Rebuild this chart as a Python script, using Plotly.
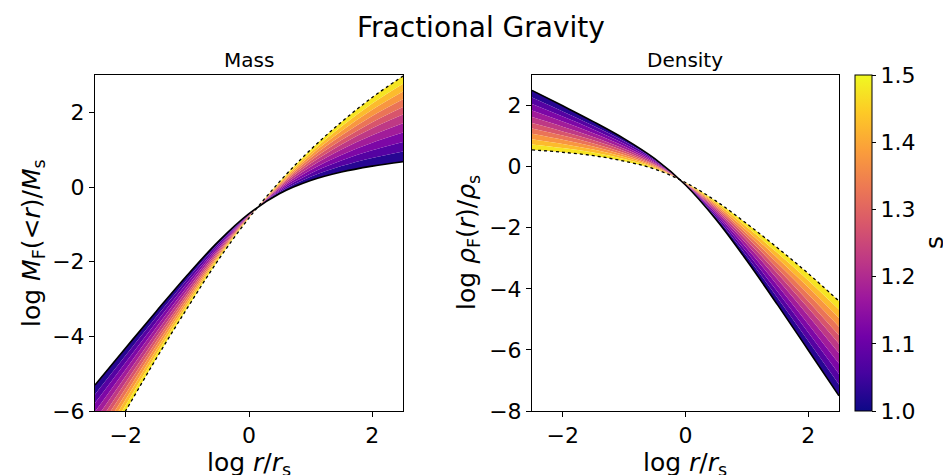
import plotly.graph_objects as go
from plotly.colors import sample_colorscale

# ---- data ----
s_values = [1.0, 1.05, 1.1, 1.15, 1.2, 1.25, 1.3, 1.35, 1.4, 1.45, 1.5]

mass_x = [-2.5, -2, -1.5, -1, -0.5, 0, 0.5, 1, 1.5, 2, 2.5]
mass_s100 = [-5.303, -4.307, -3.319, -2.357, -1.462, -0.714, -0.176, 0.173, 0.401, 0.559, 0.678]
mass_s105 = [-5.556, -4.509, -3.470, -2.463, -1.522, -0.728, -0.137, 0.272, 0.562, 0.780, 0.953]
mass_s110 = [-5.788, -4.694, -3.609, -2.560, -1.577, -0.741, -0.101, 0.363, 0.709, 0.982, 1.205]
mass_s115 = [-6.019, -4.879, -3.748, -2.657, -1.631, -0.753, -0.065, 0.454, 0.856, 1.185, 1.457]
mass_s120 = [-6.251, -5.064, -3.886, -2.754, -1.686, -0.766, -0.029, 0.545, 1.004, 1.387, 1.709]
mass_s125 = [-6.462, -5.233, -4.013, -2.843, -1.736, -0.778, 0.003, 0.628, 1.137, 1.572, 1.939]
mass_s130 = [-6.651, -5.384, -4.126, -2.922, -1.781, -0.788, 0.033, 0.702, 1.258, 1.737, 2.145]
mass_s135 = [-6.841, -5.536, -4.240, -3.002, -1.826, -0.799, 0.062, 0.777, 1.378, 1.903, 2.351]
mass_s140 = [-7.031, -5.687, -4.353, -3.081, -1.870, -0.809, 0.091, 0.851, 1.499, 2.069, 2.557]
mass_s145 = [-7.220, -5.839, -4.467, -3.161, -1.915, -0.820, 0.121, 0.926, 1.619, 2.234, 2.764]
mass_s150 = [-7.41, -5.99, -4.58, -3.24, -1.96, -0.83, 0.15, 1.00, 1.74, 2.40, 2.97]

dens_x = [-2.5, -2, -1.5, -1, -0.5, 0, 0.5, 1, 1.5, 2, 2.5]
dens_s100 = [2.497, 1.991, 1.473, 0.917, 0.261, -0.602, -1.739, -3.083, -4.527, -6.009, -7.503]
dens_s105 = [2.263, 1.808, 1.339, 0.829, 0.220, -0.592, -1.666, -2.937, -4.303, -5.708, -7.131]
dens_s110 = [2.049, 1.641, 1.217, 0.747, 0.183, -0.583, -1.599, -2.804, -4.098, -5.432, -6.789]
dens_s115 = [1.835, 1.474, 1.095, 0.666, 0.145, -0.574, -1.532, -2.671, -3.892, -5.156, -6.448]
dens_s120 = [1.621, 1.307, 0.972, 0.585, 0.108, -0.565, -1.465, -2.537, -3.687, -4.880, -6.107]
dens_s125 = [1.426, 1.154, 0.861, 0.512, 0.073, -0.557, -1.404, -2.416, -3.500, -4.629, -5.796]
dens_s130 = [1.251, 1.018, 0.761, 0.445, 0.043, -0.550, -1.349, -2.307, -3.332, -4.403, -5.517]
dens_s135 = [1.076, 0.881, 0.661, 0.379, 0.012, -0.542, -1.294, -2.198, -3.164, -4.177, -5.238]
dens_s140 = [0.900, 0.744, 0.560, 0.313, -0.019, -0.535, -1.240, -2.088, -2.996, -3.952, -4.959]
dens_s145 = [0.725, 0.607, 0.460, 0.246, -0.049, -0.527, -1.185, -1.979, -2.828, -3.726, -4.679]
dens_s150 = [0.55, 0.47, 0.36, 0.18, -0.08, -0.52, -1.13, -1.87, -2.66, -3.50, -4.40]

cbar_ticks = [1.0, 1.1, 1.2, 1.3, 1.4, 1.5]
cbar_ticktext = ["1.0", "1.1", "1.2", "1.3", "1.4", "1.5"]

mass_curves = [mass_s100, mass_s105, mass_s110, mass_s115, mass_s120, mass_s125,
               mass_s130, mass_s135, mass_s140, mass_s145, mass_s150]
dens_curves = [dens_s100, dens_s105, dens_s110, dens_s115, dens_s120, dens_s125,
               dens_s130, dens_s135, dens_s140, dens_s145, dens_s150]

S_MIN, S_MAX = 1.0, 1.5
FONT = "DejaVu Sans"
W, H = 943, 475
TICK_SIZE = 22
LABEL_SIZE = 25


def pcol(s):
    return sample_colorscale("Plasma", [(s - S_MIN) / (S_MAX - S_MIN)])[0]


fig = go.Figure()


def add_panel(xs, curves, xa, ya):
    fig.add_trace(go.Scatter(x=xs, y=curves[0], mode="lines", line=dict(width=0, shape="spline"),
                             xaxis=xa, yaxis=ya, showlegend=False, hoverinfo="skip"))
    for i in range(1, len(curves)):
        smid = 0.5 * (s_values[i - 1] + s_values[i])
        c = pcol(smid)
        fig.add_trace(go.Scatter(x=xs, y=curves[i], mode="lines",
                                 line=dict(width=0, shape="spline"),
                                 fill="tonexty", fillcolor=c,
                                 xaxis=xa, yaxis=ya, showlegend=False, hoverinfo="skip"))
    fig.add_trace(go.Scatter(x=xs, y=curves[0], mode="lines",
                             line=dict(color="black", width=1.6, shape="spline"),
                             xaxis=xa, yaxis=ya, showlegend=False))
    fig.add_trace(go.Scatter(x=xs, y=curves[-1], mode="lines",
                             line=dict(color="black", width=1.3, dash="dot", shape="spline"),
                             xaxis=xa, yaxis=ya, showlegend=False))


add_panel(mass_x, mass_curves, "x", "y")
add_panel(dens_x, dens_curves, "x2", "y2")

fig.add_trace(go.Scatter(
    x=[None], y=[None], mode="markers", xaxis="x2", yaxis="y2", showlegend=False,
    marker=dict(color=[S_MIN], colorscale="Plasma", cmin=S_MIN, cmax=S_MAX, showscale=True,
                colorbar=dict(
                    x=855 / W, xanchor="left", y=1 - 75 / H, yanchor="top",
                    len=336 / H, lenmode="fraction", thickness=17,
                    xpad=0, ypad=0, outlinecolor="black", outlinewidth=1,
                    tickvals=cbar_ticks, ticktext=cbar_ticktext,
                    ticks="outside", ticklen=4, tickcolor="black",
                    tickfont=dict(family=FONT, size=TICK_SIZE, color="black"),
                ))))

ydom = [1 - 411 / H, 1 - 75 / H]
axis_common = dict(showline=True, linecolor="black", linewidth=1, mirror=True,
                   ticks="outside", ticklen=5, tickcolor="black", showgrid=False, zeroline=False,
                   automargin=False,
                   tickfont=dict(family=FONT, size=TICK_SIZE, color="black"))

fig.update_layout(
    width=W, height=H,
    margin=dict(l=0, r=0, t=0, b=0, autoexpand=False),
    paper_bgcolor="white", plot_bgcolor="white",
    font=dict(family=FONT, color="black"),
    xaxis=dict(domain=[95 / W, 403 / W], range=[-2.5, 2.5], tickvals=[-2, 0, 2], anchor="y", **axis_common),
    yaxis=dict(domain=ydom, range=[-6, 3], tickvals=[-6, -4, -2, 0, 2], anchor="x", **axis_common),
    xaxis2=dict(domain=[532 / W, 839 / W], range=[-2.5, 2.5], tickvals=[-2, 0, 2], anchor="y2", **axis_common),
    yaxis2=dict(domain=ydom, range=[-8, 3], tickvals=[-8, -6, -4, -2, 0, 2], anchor="x2", **axis_common),
    showlegend=False,
)

ann = [
    dict(text="Fractional Gravity", x=481 / W, y=1 - 27 / H, size=28, angle=0),
    dict(text="Mass", x=249 / W, y=1 - 60 / H, size=20, angle=0),
    dict(text="Density", x=685 / W, y=1 - 60 / H, size=20, angle=0),
    dict(text="log <i>r</i>/<i>r</i><sub>s</sub>", x=249 / W, y=1 - 464 / H, size=LABEL_SIZE, angle=0),
    dict(text="log <i>r</i>/<i>r</i><sub>s</sub>", x=685 / W, y=1 - 464 / H, size=LABEL_SIZE, angle=0),
    dict(text="log <i>M</i><sub>F</sub>(&lt;<i>r</i>)/<i>M</i><sub>s</sub>", x=33 / W, y=1 - 243 / H,
         size=LABEL_SIZE, angle=-90),
    dict(text="log <i>ρ</i><sub>F</sub>(<i>r</i>)/<i>ρ</i><sub>s</sub>", x=468 / W, y=1 - 243 / H,
         size=LABEL_SIZE, angle=-90),
    dict(text="s", x=935 / W, y=1 - 243 / H, size=LABEL_SIZE, angle=-90),
]
for a in ann:
    fig.add_annotation(text=a["text"], x=a["x"], y=a["y"], xref="paper", yref="paper",
                       showarrow=False, xanchor="center", yanchor="middle", textangle=a["angle"],
                       font=dict(family=FONT, size=a["size"], color="black"))

fig.write_html("out.html", config={"displayModeBar": False},
               post_script="document.body.style.margin='0';document.body.style.overflow='hidden';")
